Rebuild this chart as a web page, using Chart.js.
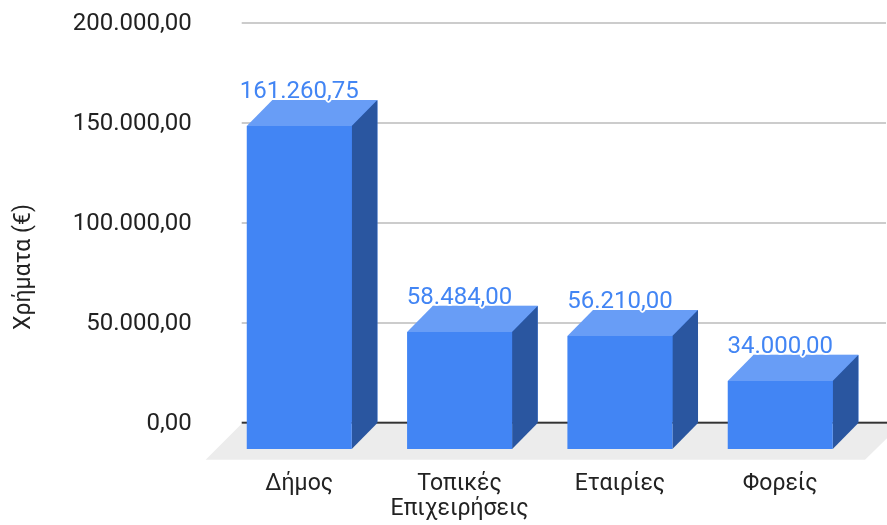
<!DOCTYPE html>
<html>
<head>
<meta charset="utf-8">
<style>
  html, body { margin: 0; padding: 0; background: #fff; }
  #wrap { width: 887px; height: 525px; }
</style>
<script src="https://cdn.jsdelivr.net/npm/chart.js@4"></script>
</head>
<body>
<div id="wrap"><canvas id="chart" width="887" height="525"></canvas></div>
<script>
const categories = ['Δήμος', ['Τοπικές', 'Επιχειρήσεις'], 'Εταιρίες', 'Φορείς'];
const amounts = [161260.75, 58484, 56210, 34000];
const axisTicks = [0, 50000, 100000, 150000, 200000];
const axisTitle = 'Χρήματα (€)';

const FRONT = '#4285f4';
const TOP = '#689df6';
const SIDE = '#2a56a0';
const FLOOR = '#ececec';
const DEPTH_X = 25.6;
const DEPTH_Y = 26;
const FONT = 'Roboto, sans-serif';

// 161260.75 -> 161.260,75
function formatAmount(v) {
  const parts = v.toFixed(2).split('.');
  return parts[0].replace(/\B(?=(\d{3})+$)/g, '.') + ',' + parts[1];
}

// floor under the bars, behind the grid
const floorPlugin = {
  id: 'floor',
  beforeDatasetsDraw(chart) {
    const c = chart.ctx, x = chart.scales.x, base = chart.scales.y.getPixelForValue(0);
    const left = x.left - 3, right = x.right + 16;
    c.save();
    c.fillStyle = FLOOR;
    c.beginPath();
    c.moveTo(left, base + 1);
    c.lineTo(right, base + 1);
    c.lineTo(right - 37, base + 37);
    c.lineTo(left - 36, base + 37);
    c.closePath();
    c.fill();
    // the zero line stays on top of the floor
    c.fillStyle = '#333333';
    c.fillRect(left, base - 1, right - left, 2);
    c.restore();
  }
};

// the library's bar is the back face, the other faces hang off it
const boxPlugin = {
  id: 'box',
  afterDatasetsDraw(chart) {
    const c = chart.ctx;
    const bars = chart.getDatasetMeta(0).data;
    c.save();
    bars.forEach((bar, i) => {
      const l = bar.x - bar.width / 2, r = bar.x + bar.width / 2;
      const t = Math.round(bar.y), b = Math.round(bar.base + 1);

      c.fillStyle = TOP;
      c.beginPath();
      c.moveTo(l, t);
      c.lineTo(r, t);
      c.lineTo(r - DEPTH_X, t + DEPTH_Y);
      c.lineTo(l - DEPTH_X, t + DEPTH_Y);
      c.closePath();
      c.fill();

      c.fillStyle = SIDE;
      c.beginPath();
      c.moveTo(r, t);
      c.lineTo(r, b);
      c.lineTo(r - DEPTH_X, b + DEPTH_Y);
      c.lineTo(r - DEPTH_X, t + DEPTH_Y);
      c.closePath();
      c.fill();

      c.fillStyle = FRONT;
      c.fillRect(l - DEPTH_X, t + DEPTH_Y, bar.width, b - t);

      // value label with a white halo
      const text = formatAmount(amounts[i]);
      c.font = '24px ' + FONT;
      c.textAlign = 'center';
      c.textBaseline = 'alphabetic';
      c.lineJoin = 'round';
      c.lineWidth = 3.5;
      c.strokeStyle = '#ffffff';
      c.strokeText(text, bar.x - DEPTH_X, t - 2);
      c.fillStyle = FRONT;
      c.fillText(text, bar.x - DEPTH_X, t - 2);
    });
    c.restore();
  }
};

// axis title sits lower than the centre of the plot
const titlePlugin = {
  id: 'axisTitle',
  afterDraw(chart) {
    const c = chart.ctx;
    c.save();
    c.translate(24, 267);
    c.rotate(-Math.PI / 2);
    c.font = '23px ' + FONT;
    c.fillStyle = '#222222';
    c.textAlign = 'center';
    c.textBaseline = 'middle';
    c.fillText(axisTitle, 0, 0);
    c.restore();
  }
};

new Chart(document.getElementById('chart'), {
  type: 'bar',
  data: {
    labels: categories,
    datasets: [{
      data: amounts,
      backgroundColor: FRONT,
      barPercentage: 1,
      categoryPercentage: 0.655
    }]
  },
  options: {
    responsive: false,
    animation: false,
    devicePixelRatio: 1,
    layout: { padding: { top: 23, right: 1 } },
    plugins: { legend: { display: false }, tooltip: { enabled: false } },
    scales: {
      x: {
        afterFit(scale) { scale.height = 102.3; },
        grid: { display: false },
        border: { display: false },
        ticks: {
          font: { family: FONT, size: 23, lineHeight: 1.1 },
          color: '#222222',
          padding: 41,
          labelOffset: -DEPTH_X,
          maxRotation: 0,
          autoSkip: false
        }
      },
      y: {
        min: 0,
        max: 200000,
        afterFit(scale) {
          scale.width = 244.7;
          scale.paddingTop = 0;
          scale.paddingBottom = 0;
        },
        afterBuildTicks(scale) { scale.ticks = axisTicks.map(value => ({ value })); },
        grid: {
          color: ctx => ctx.tick.value === 0 ? 'rgba(0,0,0,0)' : '#cccccc',
          tickColor: ctx => ctx.tick.value === 0 ? 'rgba(0,0,0,0)' : '#cccccc',
          lineWidth: 2,
          tickLength: 3
        },
        border: { display: false },
        ticks: {
          font: { family: FONT, size: 24 },
          color: '#222222',
          padding: 50,
          labelOffset: 1,
          callback: v => formatAmount(v)
        }
      }
    }
  },
  plugins: [floorPlugin, boxPlugin, titlePlugin]
});
</script>
</body>
</html>
